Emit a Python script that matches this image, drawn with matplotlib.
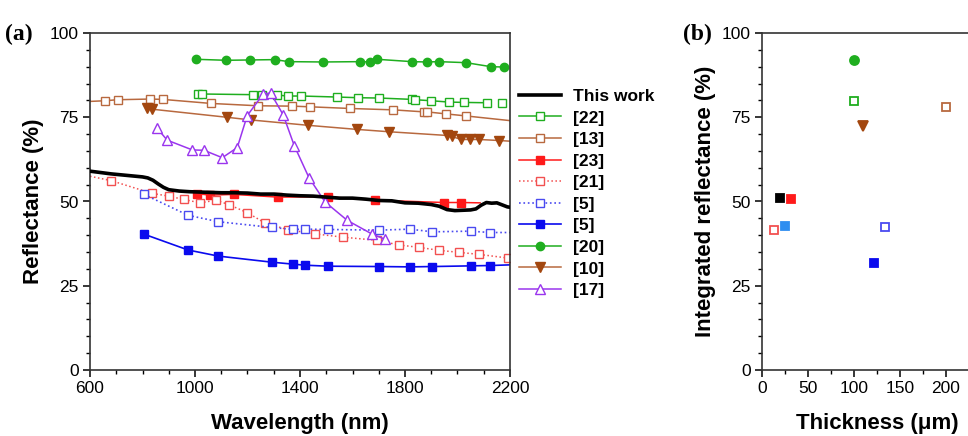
import matplotlib
matplotlib.use("Agg")
import matplotlib.pyplot as plt
from matplotlib.ticker import MultipleLocator

plt.rcParams['font.family'] = ['Liberation Sans', 'DejaVu Sans']

# ---- panel (a) data: wavelength (nm) vs reflectance (%) ----
this_x = [600, 640, 680, 720, 760, 800, 820, 840, 860, 880, 900, 940, 980, 1020, 1060,
          1100, 1150, 1200, 1250, 1300, 1350, 1400, 1450, 1500, 1550, 1600, 1650, 1700,
          1750, 1800, 1850, 1900, 1930, 1960, 1990, 2020, 2050, 2070, 2090, 2110, 2130,
          2150, 2170, 2190, 2200]
this_y = [59.0, 58.6, 58.2, 57.9, 57.6, 57.3, 57.0, 56.3, 55.2, 54.2, 53.5, 53.1, 52.9, 52.8, 52.7,
          52.6, 52.6, 52.5, 52.2, 52.2, 51.9, 51.7, 51.6, 51.3, 51.0, 51.0, 50.7, 50.3,
          50.2, 49.6, 49.5, 49.1, 48.6, 47.6, 47.3, 47.4, 47.5, 47.8, 48.9, 49.7, 49.5,
          49.6, 49.0, 48.4, 48.3]

r22_x = [1013, 1027, 1222, 1256, 1311, 1353, 1404, 1541, 1620, 1702, 1827, 1838, 1900, 1968, 2026, 2114]
r22_y = [81.9, 81.9, 81.7, 81.6, 81.6, 81.3, 81.3, 81.0, 80.8, 80.7, 80.3, 80.2, 79.9, 79.5, 79.4, 79.3]
r22_end_x = [2170]
r22_end_y = [79.2]

# line runs edge to edge, markers at inner points
r13_x = [600, 658, 705, 829, 877, 1061, 1241, 1371, 1438, 1592, 1754, 1871, 1883, 1956, 2031, 2200]
r13_y = [79.7, 79.9, 80.2, 80.4, 80.3, 79.1, 78.4, 78.3, 78.1, 77.6, 77.2, 76.6, 76.6, 76.0, 75.4, 74.0]

r23_x = [1008, 1058, 1149, 1317, 1508, 1686, 1949, 2013, 2086]
r23_y = [52.3, 51.9, 52.1, 51.3, 51.4, 50.4, 49.7, 49.7, 49.6]

r21_x = [600, 680, 837, 900, 957, 1020, 1080, 1128, 1199, 1265, 1355, 1457, 1565, 1692, 1777,
         1853, 1930, 2007, 2083, 2194]
r21_y = [57.5, 56.2, 52.4, 51.6, 50.6, 49.6, 50.4, 49.1, 46.7, 43.7, 41.6, 40.4, 39.4, 38.5, 37.1,
         36.4, 35.5, 34.9, 34.3, 33.2]

r5o_x = [806, 974, 1089, 1292, 1375, 1419, 1508, 1701, 1819, 1904, 2050, 2124, 2200]
r5o_y = [52.1, 45.9, 44.0, 42.3, 41.7, 41.8, 41.7, 41.5, 41.8, 41.0, 41.2, 40.8, 40.8]

r5f_x = [806, 974, 1089, 1292, 1375, 1419, 1508, 1701, 1819, 1904, 2050, 2124, 2200]
r5f_y = [40.3, 35.6, 33.8, 32.0, 31.4, 31.1, 30.8, 30.7, 30.6, 30.7, 30.9, 31.0, 31.2]

r20_x = [1003, 1119, 1208, 1304, 1357, 1488, 1629, 1667, 1693, 1827, 1884, 1928, 2032, 2128, 2177]
r20_y = [92.2, 91.9, 92.0, 92.1, 91.5, 91.4, 91.5, 91.4, 92.2, 91.5, 91.4, 91.5, 91.2, 90.0, 89.9]

r10_x = [816, 835, 1121, 1213, 1432, 1616, 1739, 1959, 1978, 2014, 2048, 2083, 2158, 2200]
r10_y = [77.6, 77.4, 75.0, 74.2, 72.6, 71.4, 70.7, 69.6, 69.3, 68.4, 68.4, 68.4, 68.1, 67.9]

r17_x = [854, 894, 990, 1034, 1104, 1161, 1199, 1260, 1288, 1336, 1378, 1434, 1495, 1580, 1673, 1724]
r17_y = [71.9, 68.2, 65.3, 65.2, 63.0, 66.0, 75.5, 81.9, 82.2, 75.7, 66.6, 57.1, 49.9, 44.4, 40.4, 38.8]

wl_ticks = [600, 1000, 1400, 1800, 2200]

# ---- panel (b) data: thickness (um) vs integrated reflectance (%) ----
b_labels = ['This work', '[23]', '[21]', '[17]', '[20]', '[22]', '[10]', '[13]', '[5]', '[5]']
b_thick = [20, 32, 13, 25, 100, 100, 110, 200, 133.5, 122]
b_refl = [51.1, 50.8, 41.4, 42.8, 91.9, 79.8, 72.5, 78.0, 42.4, 31.8]
th_ticks = [0, 50, 100, 150, 200]

GREEN = '#1fae1f'
BROWN = '#b8693f'
DBROWN = '#a3470f'
RED = '#ff1a1a'
LRED = '#f25050'
BLUE = '#0a0aee'
LBLUE = '#4a4af0'
PURPLE = '#9a35ee'
SKY = '#2f8ef0'

fig = plt.figure(figsize=(9.68, 4.36), dpi=100)
ax = fig.add_axes([90 / 968, 66 / 436, 420 / 968, 337 / 436])
axb = fig.add_axes([762 / 968, 66 / 436, 230 / 968, 337 / 436])

ms = 5.5
ax.plot(this_x, this_y, color='black', lw=2.6, label='This work', zorder=5)
ax.plot(r22_x, r22_y, color=GREEN, lw=1.1, marker='s', ms=ms, mfc='white', mec=GREEN, mew=1.0, label='[22]')
ax.plot(r22_end_x, r22_end_y, ls='none', marker='s', ms=ms, mfc='white', mec=GREEN, mew=1.0)
ax.plot(r13_x, r13_y, color=BROWN, lw=1.1, marker='s', ms=ms, mfc='white', mec=BROWN, mew=1.0,
        markevery=list(range(1, len(r13_x) - 1)), label='[13]')
ax.plot(r23_x, r23_y, color=RED, lw=1.1, marker='s', ms=ms, mfc=RED, mec=RED,
        markevery=list(range(0, len(r23_x) - 1)), label='[23]')
ax.plot(r21_x, r21_y, color=LRED, lw=1.1, ls=':', marker='s', ms=ms, mfc='white', mec=LRED, mew=1.0,
        markevery=list(range(1, len(r21_x))), label='[21]')
ax.plot(r5o_x, r5o_y, color=LBLUE, lw=1.2, ls=':', marker='s', ms=ms, mfc='white', mec=LBLUE, mew=1.0,
        markevery=list(range(0, len(r5o_x) - 1)), label='[5]')
ax.plot(r5f_x, r5f_y, color=BLUE, lw=1.2, marker='s', ms=ms, mfc=BLUE, mec=BLUE,
        markevery=list(range(0, len(r5f_x) - 1)), label='[5]')
ax.plot(r20_x, r20_y, color=GREEN, lw=1.1, marker='o', ms=6, mfc=GREEN, mec=GREEN, label='[20]')
ax.plot(r10_x, r10_y, color=BROWN, lw=1.1, marker='v', ms=6.5, mfc=DBROWN, mec=DBROWN,
        markevery=list(range(0, len(r10_x) - 1)), label='[10]')
ax.plot(r17_x, r17_y, color=PURPLE, lw=1.1, marker='^', ms=7, mfc='white', mec=PURPLE, mew=1.0,
        label='[17]')

ax.set_xlim(600, 2200)
ax.set_ylim(0, 100)
ax.set_xticks(wl_ticks)
ax.xaxis.set_minor_locator(MultipleLocator(100))
ax.yaxis.set_major_locator(MultipleLocator(25))
ax.yaxis.set_minor_locator(MultipleLocator(5))
ax.set_xlabel('Wavelength (nm)', fontsize=16, fontweight='bold', labelpad=12)
ax.set_ylabel('Reflectance (%)', fontsize=16, fontweight='bold', labelpad=4)
ax.legend(loc='upper left', bbox_to_anchor=(1.005, 0.855), frameon=False,
          prop={'size': 12.5, 'weight': 'bold'}, handlelength=2.4, handletextpad=0.7,
          labelspacing=0.37, borderaxespad=0)

styles = [('s', 'black', 'black'), ('s', RED, RED), ('s', 'white', LRED), ('s', SKY, SKY),
          ('o', GREEN, GREEN), ('s', 'white', GREEN), ('v', DBROWN, DBROWN), ('s', 'white', BROWN),
          ('s', 'white', LBLUE), ('s', BLUE, BLUE)]
for t, r, (m, fc, ec) in zip(b_thick, b_refl, styles):
    axb.plot([t], [r], ls='none', marker=m, ms=6.5 if m != 's' else 5.5, mfc=fc, mec=ec, mew=1.3)
axb.set_xlim(0, 250)
axb.set_ylim(0, 100)
axb.set_xticks(th_ticks)
axb.xaxis.set_minor_locator(MultipleLocator(25))
axb.yaxis.set_major_locator(MultipleLocator(25))
axb.yaxis.set_minor_locator(MultipleLocator(5))
axb.set_xlabel('Thickness (\u03bcm)', fontsize=16, fontweight='bold', labelpad=12)
axb.set_ylabel('Integrated reflectance (%)', fontsize=16, fontweight='bold', labelpad=4)

for a in (ax, axb):
    a.tick_params(which='major', direction='out', length=5, width=1.1, labelsize=12.5, pad=3)
    a.tick_params(which='minor', direction='out', length=3, width=1.0)
    for s in a.spines.values():
        s.set_linewidth(1.2)
        s.set_color('#333333')

fig.text(5 / 968, 1 - 40 / 436, '(a)', fontsize=17, fontweight='bold', family='Liberation Serif')
fig.text(683 / 968, 1 - 40 / 436, '(b)', fontsize=17, fontweight='bold', family='Liberation Serif')

fig.savefig('out.png', dpi=100)
